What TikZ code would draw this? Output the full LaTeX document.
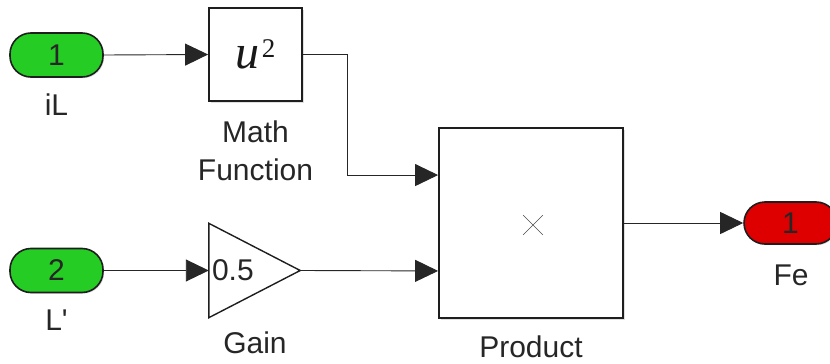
\documentclass[tikz,border=0pt]{standalone}
\usepackage{fontspec}
\setmainfont{Liberation Sans}
\newfontfamily\mathserif{Liberation Serif}
\usetikzlibrary{arrows.meta,shadows,shapes.misc,calc}
\definecolor{portgreen}{RGB}{36,204,36}
\definecolor{portred}{RGB}{222,0,0}
\definecolor{edge}{RGB}{30,30,30}
\begin{document}
\begin{tikzpicture}[x=1pt,y=-1pt,
  every node/.style={font=\fontsize{30}{32}\selectfont, text=black!85},
  port/.style={draw=edge, line width=1.6pt, rounded corners=21pt, minimum width=93pt, minimum height=44pt, inner sep=0pt,
     drop shadow={shadow xshift=1.2pt, shadow yshift=-1.2pt, opacity=0.25}},
  blockbox/.style={draw=edge, fill=white, line width=1.8pt, inner sep=0pt,
     drop shadow={shadow xshift=1.5pt, shadow yshift=-1.5pt, opacity=0.25}},
  lbl/.style={inner sep=0pt},
  conn/.style={draw=black!85, line width=0.9pt, -{Triangle[length=23pt,width=22pt]}}
]
\useasboundingbox (0,0) rectangle (830,364);
% ports
\node[port, fill=portgreen] (in1) at (56.5,55) {1};
\node[port, fill=portgreen] (in2) at (56.5,270.5) {2};
\node[port, fill=portred, minimum height=42pt] (out1) at (790.5,223) {1};
% labels
\node[lbl] (lin1) at (56.5,105) {iL};
\node[lbl] (lin2) at (56.5,320) {L\textquotesingle};
\node[lbl] (lout1) at (791,275) {Fe};
% math function
\node[blockbox, minimum width=93pt, minimum height=93pt] (math) at (255.5,54.5) {};
\node[lbl, font=\mathserif\fontsize{48}{48}\selectfont, text=black!90] (mtxt) at (255.5,54) {\textit{u}\kern2pt\raisebox{11pt}{\fontsize{27}{27}\selectfont 2}};
\node[lbl] (lmath1) at (255.5,132) {Math};
\node[lbl] (lmath2) at (255.5,170) {Function};
% gain
\node[minimum width=91pt, minimum height=94pt, inner sep=0pt] (gain) at (254.5,270.5) {};
\filldraw[draw=edge, fill=white, line width=1.4pt, line join=miter]
  (gain.north west) -- (gain.east) -- (gain.south west) -- cycle;
\node[lbl, anchor=west] (gtxt) at ($(gain.west)+(3,0)$) {0.5};
\node[lbl] (lgain) at (255,343) {Gain};
% product
\node[blockbox, minimum width=184pt, minimum height=190pt] (prod) at (531,223) {};
\node[cross out, draw=black!70, line width=0.6pt, minimum size=19pt, inner sep=0pt] (ptxt) at (533,225) {};
\node[lbl] (lprod) at (531,347) {Product};
\coordinate (p1) at ($(prod.north west)!0.25!(prod.south west)$);
\coordinate (p2) at ($(prod.north west)!0.75!(prod.south west)$);
% connectors
\draw[conn] (in1.east) -- (math.west);
\draw[conn] (math.east) -- ++(45,0) |- (p1);
\draw[conn] (in2.east) -- (gain.west);
\draw[conn] (gain.east) -- (p2);
\draw[conn] (prod.east) -- (out1.west);
\end{tikzpicture}
\end{document}
